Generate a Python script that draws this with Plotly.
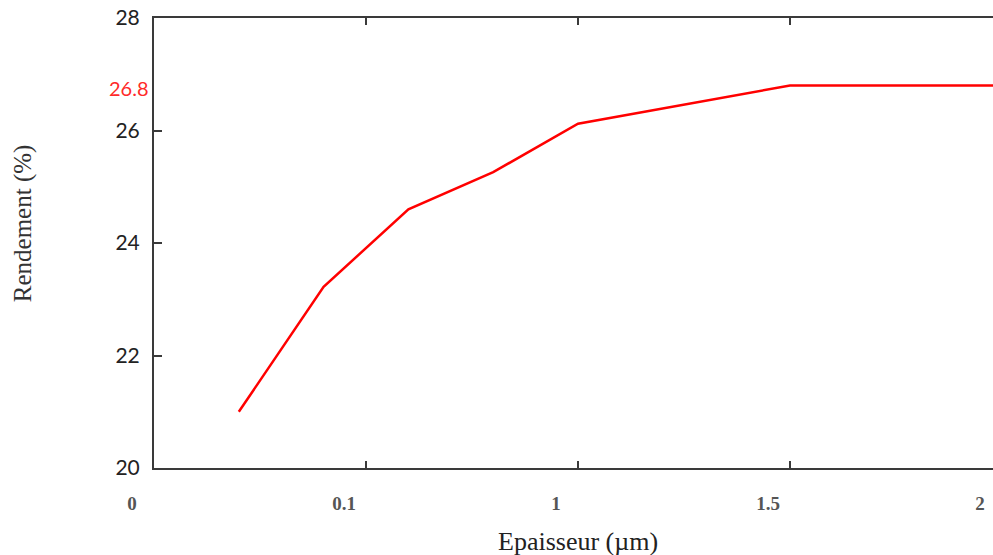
import plotly.graph_objects as go

# Data
epaisseur = [0.2, 0.4, 0.6, 0.8, 1.0, 1.5, 2.0]
rendement = [21.0, 23.22, 24.6, 25.26, 26.12, 26.8, 26.8]

x_tickvals = [0, 0.5, 1, 1.5, 2]
x_ticktext = ["0", "0.1", "1", "1.5", "2"]
y_tickvals = [20, 22, 24, 26, 28]
y_ticktext = ["20", "22", "24", "26", "28"]
highlight_value = 26.8

fig = go.Figure()
fig.add_trace(go.Scatter(
    x=epaisseur, y=rendement, mode="lines",
    line=dict(color="#ff0000", width=2.5),
    showlegend=False, hoverinfo="skip",
))

axis_color = "#3a3a3a"
fig.update_xaxes(
    range=[0, 2], tickvals=x_tickvals, ticktext=x_ticktext,
    showgrid=False, zeroline=False, automargin=False,
    showline=True, linecolor=axis_color, linewidth=2, mirror="ticks",
    ticks="inside", ticklen=7, tickwidth=2, tickcolor=axis_color,
    tickfont=dict(family="Liberation Serif", size=19, color="#555555", weight="bold"),
    ticklabelstandoff=17, ticklabelshift=-22, ticklabeloverflow="allow",
)
fig.update_yaxes(
    range=[20, 28], tickvals=y_tickvals, ticktext=y_ticktext,
    showgrid=False, zeroline=False, automargin=False,
    showline=True, linecolor=axis_color, linewidth=2, mirror="ticks",
    ticks="inside", ticklen=8, tickwidth=2, tickcolor=axis_color,
    tickfont=dict(family="Lato", size=21, color="#222222"),
    ticklabelstandoff=8, ticklabeloverflow="allow",
)

fig.add_annotation(
    x=0, xref="paper", y=highlight_value, yref="y",
    text=f"{highlight_value}", showarrow=False,
    xanchor="right", yanchor="middle", xshift=-3, yshift=-2,
    font=dict(family="Lato", size=20, color="#ff2a2a"),
)
fig.add_annotation(
    x=0.5, xref="paper", y=0, yref="paper",
    text="Epaisseur (µm)", showarrow=False,
    xanchor="center", yanchor="middle", yshift=-73,
    font=dict(family="Liberation Serif", size=26, color="#222222"),
)
fig.add_annotation(
    x=0, xref="paper", y=0.544, yref="paper",
    text="Rendement (%)", showarrow=False, textangle=-90,
    xanchor="center", yanchor="middle", xshift=-131,
    font=dict(family="Liberation Serif", size=25, color="#333333"),
)

fig.update_layout(
    width=1002, height=555,
    margin=dict(l=154, r=0, t=18, b=87),
    paper_bgcolor="white", plot_bgcolor="white",
)

fig.write_html(
    "out.html",
    config={"displayModeBar": False},
    post_script="document.body.style.margin='0';document.body.style.overflow='hidden';",
)
